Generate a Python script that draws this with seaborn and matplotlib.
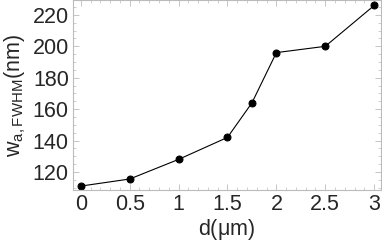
import matplotlib
matplotlib.use("Agg")
import matplotlib.pyplot as plt
from matplotlib.ticker import AutoMinorLocator, MultipleLocator
import seaborn as sns
import pandas as pd

d_um = [0, 0.5, 1, 1.5, 1.75, 2, 2.5, 3]
w_nm = [111, 115.5, 128, 142, 164, 196, 200, 226]
x_ticks = [0, 0.5, 1, 1.5, 2, 2.5, 3]
x_tick_labels = ['0', '0.5', '1', '1.5', '2', '2.5', '3']

sns.set_style("white")
plt.rcParams['font.family'] = ['Liberation Sans', 'DejaVu Sans']
plt.rcParams['mathtext.fontset'] = 'custom'
plt.rcParams['mathtext.rm'] = 'Liberation Sans'
plt.rcParams['mathtext.it'] = 'Liberation Sans:italic'

df = pd.DataFrame({'d': d_um, 'w': w_nm})

fig = plt.figure(figsize=(3.82, 2.44), dpi=100)
ax = fig.add_axes([73 / 382, 1 - 190 / 244, 308 / 382, 190 / 244])

sns.lineplot(data=df, x='d', y='w', ax=ax, color='black', linewidth=0.8,
             marker='o', markersize=5, markeredgecolor='black')

ax.set_xlim(-0.08, 3.07)
ax.set_ylim(108.5, 229.5)
ax.yaxis.set_major_locator(MultipleLocator(20))
ax.set_xticks(x_ticks)
ax.set_xticklabels(x_tick_labels)
ax.xaxis.set_minor_locator(AutoMinorLocator(5))
ax.yaxis.set_minor_locator(AutoMinorLocator(4))

for s in ax.spines.values():
    s.set_color('#bbbbbb')
    s.set_linewidth(0.8)
ax.tick_params(which='both', direction='in', color='#bbbbbb', labelsize=15.5,
               top=True, right=True, bottom=True, left=True)
ax.tick_params(which='major', length=4, width=0.6, pad=3)
ax.tick_params(which='minor', length=2, width=0.5)

ax.set_xlabel(r'd($\mathrm{\mu}$m)', fontsize=15.5, labelpad=1)
ax.set_ylabel(r'$\mathrm{w_{a,FWHM}}$(nm)', fontsize=15.5, labelpad=3)

fig.savefig('out.png', dpi=100)
